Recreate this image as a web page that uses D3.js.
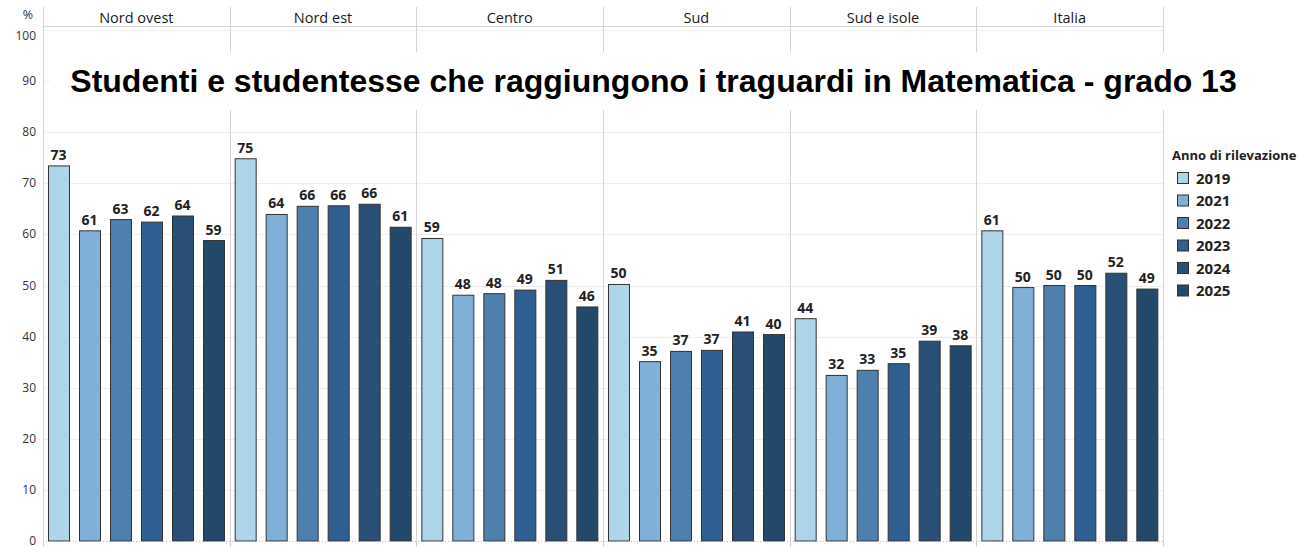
<!DOCTYPE html>
<html>
<head>
<meta charset="utf-8">
<script src="https://cdn.jsdelivr.net/npm/d3@7"></script>
<style>
  body { margin: 0; background: #fff; }
  svg { display: block; font-family: "Open Sans", Lato, sans-serif; }
</style>
</head>
<body>
<div id="chart"></div>
<script>
/*
 * Data
 */
const regions = ['Nord ovest', 'Nord est', 'Centro', 'Sud', 'Sud e isole', 'Italia']
const years = ['2019', '2021', '2022', '2023', '2024', '2025']
const nordOvest = [73.4, 60.7, 62.9, 62.4, 63.6, 58.8]
const nordEst = [74.8, 63.9, 65.5, 65.6, 65.9, 61.4]
const centro = [59.2, 48.1, 48.4, 49.1, 51.0, 45.8]
const sud = [50.2, 35.1, 37.1, 37.3, 40.9, 40.4]
const sudIsole = [43.5, 32.4, 33.4, 34.7, 39.1, 38.2]
const italia = [60.7, 49.6, 50.0, 50.0, 52.4, 49.3]
const yTicks = [0, 10, 20, 30, 40, 50, 60, 70, 80, 90, 100]
const title = 'Studenti e studentesse che raggiungono i traguardi in Matematica - grado 13'

const values = [nordOvest, nordEst, centro, sud, sudIsole, italia]
const colors = ['#aed4ea', '#80b0d7', '#4f7fad', '#2f5f91', '#294f77', '#23496a']

/*
 * Layout
 */
const w = 1314
const h = 547
const plotLeft = 43
const plotRight = 1163
const plotTop = 30
const plotBottom = 541

const svg = d3.select('#chart')
  .append('svg')
  .attr('width', w)
  .attr('height', h)

const x0 = d3.scaleBand()
  .domain(regions)
  .range([plotLeft, plotRight])

const x1 = d3.scaleBand()
  .domain(years)
  .range([0, x0.bandwidth()])
  .paddingInner(0.32)
  .paddingOuter(0.17)

const y = d3.scaleLinear()
  .domain([0, 100])
  .range([plotBottom, plotTop])

const color = d3.scaleOrdinal(years, colors)

// gridlines
svg.append('g')
  .selectAll('line')
  .data(yTicks.filter(t => t > 0))
  .enter()
  .append('line')
  .attr('x1', plotLeft)
  .attr('x2', plotRight)
  .attr('y1', d => Math.round(y(d)) + 0.5)
  .attr('y2', d => Math.round(y(d)) + 0.5)
  .style('stroke', '#eeeeee')
  .style('stroke-width', 1)

// panel separators
svg.append('g')
  .selectAll('line')
  .data(regions.slice(1).concat(['end']))
  .enter()
  .append('line')
  .attr('x1', d => Math.round(d === 'end' ? plotRight : x0(d)) + 0.5)
  .attr('x2', d => Math.round(d === 'end' ? plotRight : x0(d)) + 0.5)
  .attr('y1', 7)
  .attr('y2', h)
  .style('stroke', '#d4d4d4')
  .style('stroke-width', 1)

// header line
svg.append('line')
  .attr('x1', plotLeft).attr('x2', plotRight)
  .attr('y1', 26.5).attr('y2', 26.5)
  .style('stroke', '#d4d4d4')

// region headers
svg.append('g')
  .selectAll('text')
  .data(regions)
  .enter()
  .append('text')
  .attr('x', d => x0(d) + x0.bandwidth() / 2)
  .attr('y', 22.5)
  .attr('text-anchor', 'middle')
  .style('font-size', '14.5px')
  .style('font-weight', 500)
  .style('fill', '#1a1a1a')
  .text(d => d)

// bars
const groups = svg.append('g')
  .selectAll('g')
  .data(regions)
  .enter()
  .append('g')
  .attr('transform', d => `translate(${x0(d)},0)`)

groups.selectAll('rect')
  .data((d, i) => values[i].map((v, j) => ({ year: years[j], value: v })))
  .enter()
  .append('rect')
  .attr('x', d => Math.round(x1(d.year)) + 0.5)
  .attr('y', d => y(d.value))
  .attr('width', Math.round(x1.bandwidth()))
  .attr('height', d => plotBottom - y(d.value))
  .style('fill', d => color(d.year))
  .style('stroke', '#333')
  .style('stroke-width', 1)

groups.selectAll('text')
  .data((d, i) => values[i].map((v, j) => ({ year: years[j], value: v })))
  .enter()
  .append('text')
  .attr('x', d => Math.round(x1(d.year)) + x1.bandwidth() / 2)
  .attr('y', d => y(d.value) - 6)
  .attr('text-anchor', 'middle')
  .style('font-size', '14px')
  .style('font-weight', 'bold')
  .style('fill', '#222')
  .text(d => Math.round(d.value))

// baseline
svg.append('line')
  .attr('x1', plotLeft).attr('x2', plotRight)
  .attr('y1', plotBottom + 0.5).attr('y2', plotBottom + 0.5)
  .style('stroke', '#bbb')
  .style('stroke-dasharray', '1,2')

// left axis line
svg.append('line')
  .attr('x1', plotLeft + 0.5).attr('x2', plotLeft + 0.5)
  .attr('y1', 7).attr('y2', h)
  .style('stroke', '#d4d4d4')

// y tick labels (top and bottom ones kept inside like the original)
svg.append('g')
  .selectAll('text')
  .data(yTicks)
  .enter()
  .append('text')
  .attr('x', 36)
  .attr('y', d => d === 100 ? 40 : d === 0 ? 544.5 : y(d) + 4)
  .attr('text-anchor', 'end')
  .style('font-size', '12px')
  .style('fill', '#333')
  .text(d => d)

svg.append('text')
  .attr('x', 28)
  .attr('y', 19)
  .attr('text-anchor', 'middle')
  .style('font-size', '12.5px')
  .style('fill', '#333')
  .text('%')

// title with white backing
svg.append('rect')
  .attr('x', 50)
  .attr('y', 52)
  .attr('width', 1210)
  .attr('height', 58)
  .style('fill', '#fff')

svg.append('text')
  .attr('x', 653.5)
  .attr('y', 92)
  .attr('text-anchor', 'middle')
  .style('font-family', '"Liberation Sans", Arial, sans-serif')
  .style('font-size', '32px')
  .style('font-weight', 'bold')
  .style('fill', '#000')
  .text(title)

// legend
const legend = svg.append('g')
  .attr('transform', 'translate(1172,0)')

legend.append('text')
  .attr('x', 0)
  .attr('y', 160)
  .style('font-size', '13px')
  .style('font-weight', 'bold')
  .style('fill', '#222')
  .text('Anno di rilevazione')

const items = legend.selectAll('g')
  .data(years)
  .enter()
  .append('g')
  .attr('transform', (d, i) => `translate(0,${178 + i * 22.5})`)

items.append('rect')
  .attr('x', 5.5)
  .attr('y', -5.5)
  .attr('width', 11)
  .attr('height', 11)
  .style('fill', d => color(d))
  .style('stroke', '#333')

items.append('text')
  .attr('x', 24)
  .attr('y', 5.5)
  .style('font-size', '15px')
  .style('font-weight', 'bold')
  .style('fill', '#222')
  .text(d => d)
</script>
</body>
</html>
